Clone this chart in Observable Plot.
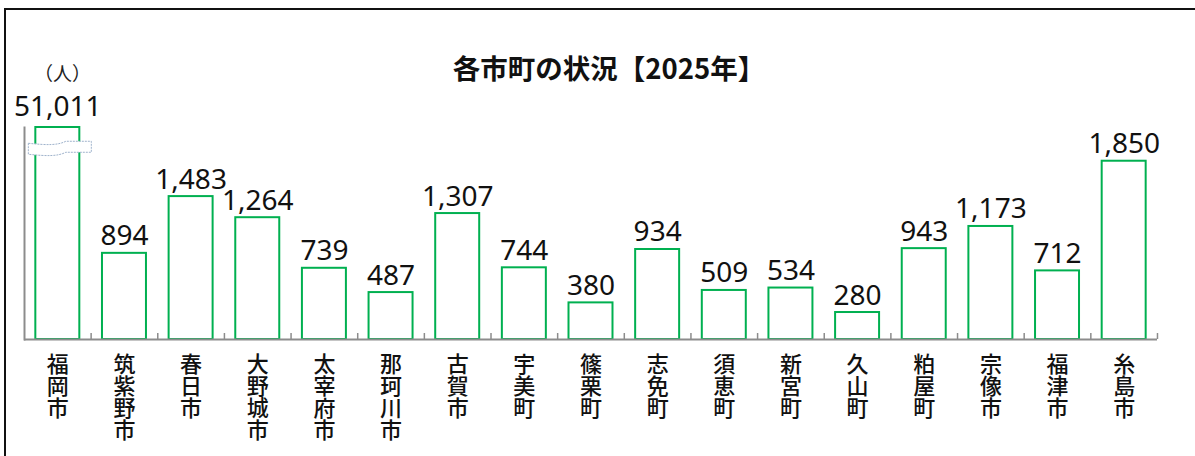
<!DOCTYPE html>
<html>
<head>
<meta charset="utf-8">
<script src="https://cdn.jsdelivr.net/npm/d3@7"></script>
<script src="https://cdn.jsdelivr.net/npm/@observablehq/plot@0.6"></script>
<style>
  html, body { margin: 0; padding: 0; background: #fff; overflow: hidden; }
  #wrap { position: relative; width: 1195px; height: 456px; }
  #frame { position: absolute; left: 4px; top: 8px; width: 1300px; height: 600px; border-left: 2px solid #111; border-top: 2px solid #111; }
  #title { position: absolute; left: 0; width: 1218px; top: 54px; text-align: center; font-family: "Noto Sans CJK JP", sans-serif; font-weight: bold; font-size: 27.5px; color: #111; line-height: 1; }
  #unit { position: absolute; left: 34px; top: 63px; font-family: "Noto Sans CJK JP", sans-serif; font-size: 19px; color: #222; line-height: 1; }
  #chart { position: absolute; left: 0; top: 0; }
</style>
</head>
<body>
<div id="wrap">
  <div id="frame"></div>
  <div id="title">各市町の状況【2025年】</div>
  <div id="unit">（人）</div>
  <div id="chart"></div>
</div>
<script>
const municipalities = ["福岡市","筑紫野市","春日市","大野城市","太宰府市","那珂川市","古賀市","宇美町","篠栗町","志免町","須恵町","新宮町","久山町","粕屋町","宗像市","福津市","糸島市"];
const people = [51011, 894, 1483, 1264, 739, 487, 1307, 744, 380, 934, 509, 534, 280, 943, 1173, 712, 1850];
const yMax = 2200;        // axis is broken above this value
const breakAt = 2000;     // where the break symbol is drawn
const brokenCategory = "福岡市";

const data = municipalities.map((m, i) => ({name: m, value: people[i]}));
const fmt = d3.format(",");
const green = "#00b050";
const gray = "#8c8c8c";

function breakSymbol(index, scales, values, dims) {
  const g = d3.create("svg:g");
  const xs = scales.x;
  const bw = xs.bandwidth ? xs.bandwidth() : 44;
  const bx = xs(brokenCategory);
  const L = bx - 7, R = bx + bw + 12, m = (L + R) / 2;
  const t = scales.y(breakAt) - 4;
  const d = `M${L},${t+1} C${m-12},${t+3} ${m-2},${t+3} ${m+6},${t-1} L${R},${t-1} L${R},${t+10} L${m+6},${t+10} C${m-2},${t+14} ${m-12},${t+14} ${L},${t+12} Z`;
  g.append("path").attr("d", d).attr("fill", "#fff").attr("stroke", "#9fb3cc").attr("stroke-width", 1).attr("stroke-dasharray", "2,1");
  return g.node();
}

const valueText = { x: "name", y: "value", text: d => fmt(d.value), lineAnchor: "bottom", fontSize: 28, fontFamily: "'Noto Sans', sans-serif", fill: "#111" };

const plot = Plot.plot({
  width: 1195,
  height: 456,
  marginLeft: 24,
  marginRight: 38,
  marginTop: 127,
  marginBottom: 117,
  style: { background: "transparent", fontFamily: "'Noto Sans CJK JP', sans-serif" },
  x: { domain: municipalities, paddingInner: 0.34, paddingOuter: 0.17, round: false, label: null, axis: null },
  y: { domain: [0, yMax], clamp: true, axis: null },
  marks: [
    Plot.frame({ anchor: "left", stroke: gray, strokeWidth: 2 }),
    Plot.barY(data, { x: "name", y: "value", fill: "#fff", stroke: green, strokeWidth: 2 }),
    Plot.ruleX(municipalities, { x: d => d, y1: 0, y2: 62, dx: 33.3, stroke: gray, strokeWidth: 1.5 }),
    Plot.ruleY([0], { stroke: gray, strokeWidth: 2 }),
    breakSymbol,
    Plot.text(data.filter(d => d.value <= yMax), { ...valueText, dy: -8 }),
    Plot.text(data.filter(d => d.value > yMax), { ...valueText, dy: -12 }),
    Plot.text(municipalities, { x: d => d, y: 0, text: d => d, dy: 6, fontSize: 22, fontWeight: 500, fill: "#111", className: "vlabel" })
  ]
});
d3.select(plot).selectAll(".vlabel text")
  .style("writing-mode", "vertical-rl")
  .attr("text-anchor", "start")
  .attr("dy", null);
document.getElementById("chart").appendChild(plot);
</script>
</body>
</html>
